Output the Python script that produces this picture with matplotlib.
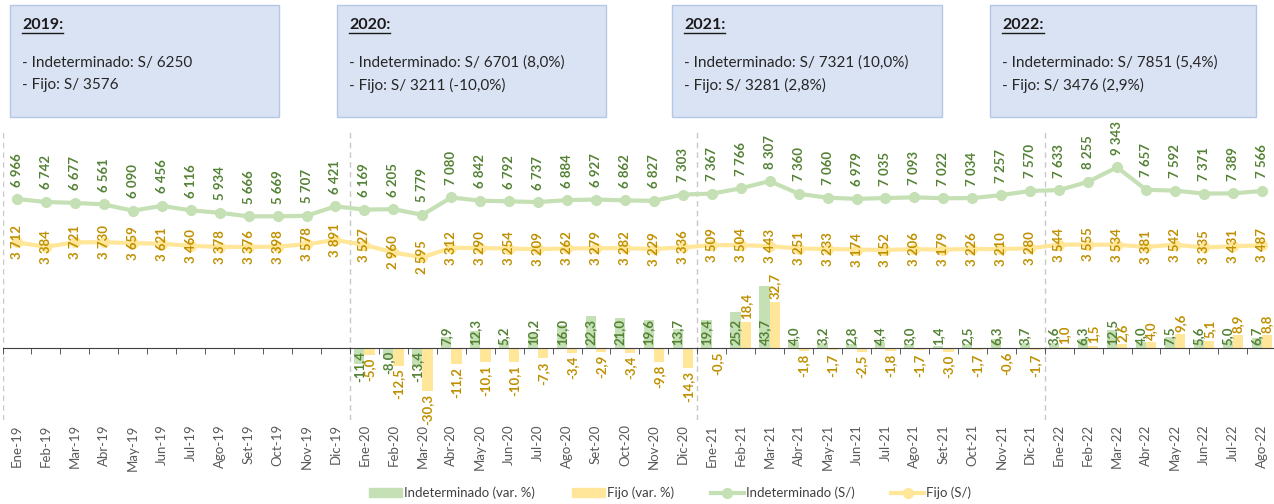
import matplotlib
matplotlib.use("Agg")
import matplotlib.pyplot as plt
from matplotlib.patches import Rectangle, Patch
from matplotlib.lines import Line2D

plt.rcParams['font.family'] = ['Lato', 'DejaVu Sans']

# datos
meses = ["Ene", "Feb", "Mar", "Abr", "May", "Jun", "Jul", "Ago", "Set", "Oct", "Nov", "Dic"]
anios = ["19", "20", "21", "22"]
etiquetas = [f"{m}-{a}" for a in anios for m in meses][:44]

indet = [6966, 6742, 6677, 6561, 6090, 6456, 6116, 5934, 5666, 5669, 5707, 6421,
         6169, 6205, 5779, 7080, 6842, 6792, 6737, 6884, 6927, 6862, 6827, 7303,
         7367, 7766, 8307, 7360, 7060, 6979, 7035, 7093, 7022, 7034, 7257, 7570,
         7633, 8255, 9343, 7657, 7592, 7371, 7389, 7566]
fijo = [3712, 3384, 3721, 3730, 3659, 3621, 3460, 3378, 3376, 3398, 3578, 3891,
        3527, 2960, 2595, 3312, 3290, 3254, 3209, 3262, 3279, 3282, 3229, 3336,
        3509, 3504, 3443, 3251, 3233, 3174, 3152, 3206, 3179, 3226, 3210, 3280,
        3544, 3555, 3534, 3381, 3542, 3335, 3431, 3487]

# variaciones desde Ene-20
var_indet = [-11.4, -8.0, -13.4, 7.9, 12.3, 5.2, 10.2, 16.0, 22.3, 21.0, 19.6, 13.7,
             19.4, 25.2, 43.7, 4.0, 3.2, 2.8, 4.4, 3.0, 1.4, 2.5, 6.3, 3.7,
             3.6, 6.3, 12.5, 4.0, 7.5, 5.6, 5.0, 6.7]
var_fijo = [-5.0, -12.5, -30.3, -11.2, -10.1, -10.1, -7.3, -3.4, -2.9, -3.4, -9.8, -14.3,
            -0.5, 18.4, 32.7, -1.8, -1.7, -2.5, -1.8, -1.7, -3.0, -1.7, -0.6, -1.7,
            1.0, 1.5, 2.6, 4.0, 9.6, 5.1, 8.9, 8.8]

cuadro_titulos = ["2019:", "2020:", "2021:", "2022:"]
cuadro_indet = ["- Indeterminado: S/ 6250", "- Indeterminado: S/ 6701 (8,0%)",
                "- Indeterminado: S/ 7321 (10,0%)", "- Indeterminado: S/ 7851 (5,4%)"]
cuadro_fijo = ["- Fijo: S/ 3576", "- Fijo: S/ 3211 (-10,0%)",
               "- Fijo: S/ 3281 (2,8%)", "- Fijo: S/ 3476 (2,9%)"]

VERDE, VERDE_TXT = '#C5E0B4', '#548235'
AMAR, AMAR_TXT = '#FFE699', '#BF9000'

W, H = 1274, 504
fig = plt.figure(figsize=(W / 100, H / 100), dpi=100)

ax = fig.add_axes([0.002, 1 - 420 / H, 0.9998, 290 / H])
ax.set_xlim(-0.5, 43.5)
ax.set_ylim(-50.7, 153.5)
ax2 = ax.twinx()
ax2.set_ylim(-9588, 12135)

x = list(range(len(etiquetas)))
xv = x[12:]
w = 0.356

# barras
ax.bar([i - w / 2 for i in xv], var_indet, width=w, color=VERDE, zorder=2)
ax.bar([i + w / 2 for i in xv], var_fijo, width=w, color=AMAR, zorder=2)

fmt_pct = lambda v: f"{v:.1f}".replace(".", ",")
for i, v in zip(xv, var_indet):
    ax.annotate(fmt_pct(v), (i - w / 2, 0), xytext=(0, 2 if v >= 0 else -2),
                textcoords='offset points', rotation=90, ha='center',
                va='bottom' if v >= 0 else 'top', fontsize=9.5,
                color=VERDE_TXT, fontweight='bold', zorder=5)
for i, v in zip(xv, var_fijo):
    ax.annotate(fmt_pct(v), (i + w / 2, v), xytext=(0, 2 if v >= 0 else -2),
                textcoords='offset points', rotation=90, ha='center',
                va='bottom' if v >= 0 else 'top', fontsize=9.5,
                color=AMAR_TXT, fontweight='bold', zorder=5)

# lineas
ax2.plot(x, indet, color=VERDE, lw=3, marker='o', ms=7, zorder=3)
ax2.plot(x, fijo, color=AMAR, lw=3, marker='o', ms=7, zorder=3)

fmt_num = lambda v: f"{v:,}".replace(",", " ")
for i, v in zip(x, indet):
    ax2.annotate(fmt_num(v), (i, v), xytext=(0, 9), textcoords='offset points',
                 rotation=90, ha='center', va='bottom', fontsize=9.5,
                 color=VERDE_TXT, fontweight='bold')
for i, v in zip(x, fijo):
    ax2.annotate(fmt_num(v), (i, v), rotation=90, ha='center', va='center',
                 fontsize=9.5, color=AMAR_TXT, fontweight='bold')

# separadores de anio
for b in [-0.5, 11.5, 23.5, 35.5]:
    ax.axvline(b, color='#C8C8C8', ls=(0, (4, 3)), lw=1, zorder=1)

# ejes
for s in ['top', 'left', 'right']:
    ax.spines[s].set_visible(False)
    ax2.spines[s].set_visible(False)
ax2.spines['bottom'].set_visible(False)
ax.spines['bottom'].set_position(('data', 0))
ax.spines['bottom'].set_color('#404040')
ax.set_yticks([])
ax2.set_yticks([])
ax.set_xticks(x)
ax.set_xticks([i + 0.5 for i in range(-1, 44)], minor=True)
ax.set_xticklabels(etiquetas)
ax.tick_params(axis='x', which='major', length=0, labelbottom=False)
ax.tick_params(axis='x', which='minor', length=4, direction='out', color='#404040')
ax2.xaxis.set_visible(True)
ax2.tick_params(axis='x', which='both', length=0, labelbottom=True, pad=3,
                labelrotation=90, labelsize=9.5, labelcolor='#595959')

# leyenda
handles = [Patch(color=VERDE), Patch(color=AMAR),
           Line2D([], [], color=VERDE, lw=3, marker='o', ms=7),
           Line2D([], [], color=AMAR, lw=3, marker='o', ms=7)]
fig.legend(handles, ["Indeterminado (var. %)", "Fijo (var. %)",
                     "Indeterminado (S/)", "Fijo (S/)"],
           loc='center', bbox_to_anchor=(0.526, 0.022), ncol=4, frameon=False,
           fontsize=9.5, handlelength=2.5, handletextpad=0.15, columnspacing=2.8,
           labelcolor='#404040')

# cuadros
cajas = [(10, 279), (337, 606), (672, 942), (990, 1256)]
titulos = []
for (x0, x1), t, l1, l2 in zip(cajas, cuadro_titulos, cuadro_indet, cuadro_fijo):
    fig.add_artist(Rectangle((x0 / W, 1 - 117 / H), (x1 - x0) / W, 112 / H,
                             transform=fig.transFigure, facecolor='#DAE3F3',
                             edgecolor='#B4C7E7', lw=1))
    titulos.append(fig.text((x0 + 12) / W, 1 - 25 / H, t, fontsize=11.5,
                            fontweight='bold', va='center', color='#1a1a1a'))
    fig.text((x0 + 12) / W, 1 - 63 / H, l1, fontsize=11, va='center', color='#262626')
    fig.text((x0 + 12) / W, 1 - 85 / H, l2, fontsize=11, va='center', color='#262626')

fig.canvas.draw()
r = fig.canvas.get_renderer()
for t in titulos:
    bb = t.get_window_extent(r)
    y = (bb.y0 - 1) / H
    fig.add_artist(Line2D([bb.x0 / W, bb.x1 / W], [y, y], color='#1a1a1a', lw=1,
                          transform=fig.transFigure))

fig.savefig("out.png", dpi=100)
